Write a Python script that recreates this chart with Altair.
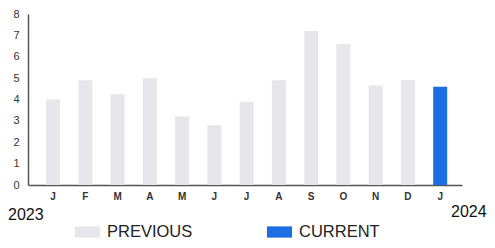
import altair as alt
import pandas as pd

months = ["J", "F", "M", "A", "M ", "J ", "J  ", "A ", "S", "O", "N", "D", "J   "]
values = [4.0, 4.9, 4.25, 5.0, 3.2, 2.8, 3.9, 4.9, 7.2, 6.6, 4.65, 4.9, 4.6]
series = ["PREVIOUS"] * 12 + ["CURRENT"]
years = ["2023", "2024"]

df = pd.DataFrame({"month": months, "value": values, "series": series})

bars = alt.Chart(df).mark_bar().encode(
    x=alt.X("month:N", sort=months,
            scale=alt.Scale(paddingInner=0.566, paddingOuter=0.51, align=0.55),
            axis=alt.Axis(title=None, labelAngle=0, ticks=False, domainColor="#555",
                          domainWidth=1.5, labelFontSize=10, labelFont="Liberation Sans",
                          labelColor="#333", labelPadding=6, labelFontWeight="bold")),
    y=alt.Y("value:Q", scale=alt.Scale(domain=[0, 8]),
            axis=alt.Axis(title=None, values=list(range(9)), ticks=False, grid=False,
                          domainColor="#555", domainWidth=1.5, labelFontSize=11,
                          labelFont="Liberation Sans", labelColor="#333", labelPadding=9)),
    color=alt.Color("series:N", sort=["PREVIOUS", "CURRENT"],
                    scale=alt.Scale(domain=["PREVIOUS", "CURRENT"], range=["#e6e6eb", "#1c6fe0"]),
                    legend=alt.Legend(title=None, orient="none", legendX=47, legendY=205.5,
                                      direction="horizontal", columns=2, columnPadding=74,
                                      symbolType="M-1,-0.45H1V0.45H-1Z", symbolSize=625,
                                      symbolStrokeWidth=0, labelFontSize=16.5,
                                      labelFont="Liberation Sans", labelColor="#222",
                                      labelOffset=7)),
)

ydf = pd.DataFrame({"year": years, "px": [-20, 423], "py": [206, 203]})
year_text = alt.Chart(ydf).mark_text(
    align="left", baseline="alphabetic", fontSize=16, font="Liberation Sans", color="#111"
).encode(
    x=alt.X("px:Q", scale=None, axis=None),
    y=alt.Y("py:Q", scale=None, axis=None),
    text="year:N",
)

chart = alt.layer(bars, year_text).resolve_scale(x="independent", y="independent").resolve_axis(
    x="independent", y="independent").properties(
    width=434, height=171,
    background="white",
    autosize=alt.AutoSizeParams(type="none"),
    padding={"left": 20, "top": 6, "right": 25, "bottom": 55},
).configure_view(stroke=None, strokeWidth=0).configure_axis(grid=False)

chart.save("out.html", embed_options={"renderer": "svg", "actions": False})
